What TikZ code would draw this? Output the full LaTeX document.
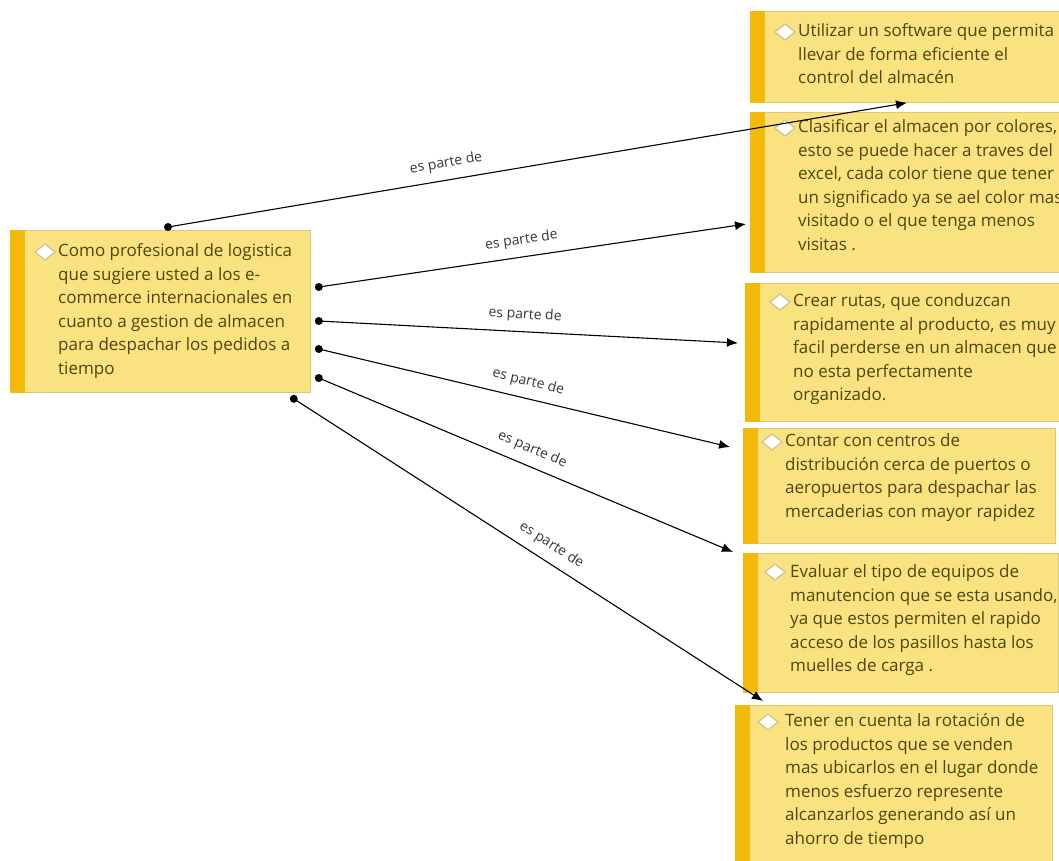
\documentclass[tikz,border=0pt]{standalone}
\usepackage{fontspec}
\setmainfont{Open Sans}
\usetikzlibrary{calc,arrows.meta}
\definecolor{boxfill}{RGB}{251,226,128}
\definecolor{boxline}{RGB}{222,200,120}
\definecolor{stripecol}{RGB}{242,185,10}
\definecolor{txtcol}{RGB}{78,70,15}
\definecolor{diacol}{RGB}{205,195,150}
\definecolor{lblcol}{RGB}{55,55,55}
\begin{document}
\begin{tikzpicture}[x=1pt,y=-1pt,
  card/.style={draw=boxline, line width=0.8pt, fill=boxfill, anchor=north west, inner sep=0pt},
  cardtext/.style={anchor=north west, inner sep=0pt, align=left, text=txtcol, font=\fontsize{17}{23.5}\selectfont},
  conn/.style={line width=1.1pt, -{Latex[length=11pt,width=9pt]}},
  lab/.style={sloped, above=9pt, inner sep=0pt, text=lblcol, font=\fontsize{14}{16}\selectfont},
  gem/.style={draw=diacol, fill=white, line width=1.2pt}]
\useasboundingbox (0,0) rectangle (1059,860);
\clip (0,0) rectangle (1059,860);

% cards
\node[card, minimum width=300pt, minimum height=162pt] (src) at (10,230) {};
\node[card, minimum width=330pt, minimum height=91pt]  (b1) at (750,11) {};
\node[card, minimum width=330pt, minimum height=160pt] (b2) at (750,112) {};
\node[card, minimum width=330pt, minimum height=138pt] (b3) at (745,283) {};
\node[card, minimum width=312pt, minimum height=115pt] (b4) at (743,428) {};
\node[card, minimum width=315pt, minimum height=139pt] (b5) at (743,553) {};
\node[card, minimum width=317pt, minimum height=170pt] (b6) at (735,705) {};

% stripes
\foreach \n in {src,b1,b2,b3,b4,b5,b6}{
  \fill[stripecol] (\n.north west) rectangle ($(\n.south west)+(15,0)$);
}

% diamonds
\foreach \p in {(45,252),(785,32),(785,128),(780,302),(772,442),(775,572),(768,722)}{
  \draw[gem] \p +(-10,0) -- +(0,-8) -- +(10,0) -- +(0,8) -- cycle;
}

% texts
\node[cardtext] (tsrc) at (58,243.6) {Como profesional de logistica\\que sugiere usted a los e-\\commerce internacionales en\\cuanto a gestion de almacen\\para despachar los pedidos a\\tiempo};
\node[cardtext] (t1) at (798,23.6) {Utilizar un software que permita\\llevar de forma eficiente el\\control del almacén};
\node[cardtext] (t2) at (798,119.6) {Clasificar el almacen por colores,\\esto se puede hacer a traves del\\excel, cada color tiene que tener\\un significado ya se ael color mas\\visitado o el que tenga menos\\visitas .};
\node[cardtext] (t3) at (793,293.6) {Crear rutas, que conduzcan\\rapidamente al producto, es muy\\facil perderse en un almacen que\\no esta perfectamente\\organizado.};
\node[cardtext] (t4) at (785,433.6) {Contar con centros de\\distribución cerca de puertos o\\aeropuertos para despachar las\\mercaderias con mayor rapidez};
\node[cardtext] (t5) at (790,564.6) {Evaluar el tipo de equipos de\\manutencion que se esta usando,\\ya que estos permiten el rapido\\acceso de los pasillos hasta los\\muelles de carga .};
\node[cardtext] (t6) at (785,713.6) {Tener en cuenta la rotación de\\los productos que se venden\\mas ubicarlos en el lugar donde\\menos esfuerzo represente\\alcanzarlos generando así un\\ahorro de tiempo};

% connector end points
\coordinate (s1) at ($(src.north west)+(158,-3)$);
\coordinate (s2) at ($(src.north east)+(8,57)$);
\coordinate (s3) at ($(src.north east)+(8,91)$);
\coordinate (s4) at ($(src.north east)+(8,119)$);
\coordinate (s5) at ($(src.north east)+(8,148)$);
\coordinate (s6) at ($(src.south east)+(-17,6)$);
\coordinate (e1) at ($(b1.south west)+(157,0)$);
\coordinate (e2) at ($(b2.north west)+(-4,112)$);
\coordinate (e3) at ($(b3.north west)+(-7,60)$);
\coordinate (e4) at ($(b4.north west)+(-13,19)$);
\coordinate (e5) at ($(b5.north west)+(-10,-1)$);
\coordinate (e6) at ($(b6.north west)+(28,-4)$);

% connectors
\draw[conn] (s1) -- node[lab, pos=0.38] {es parte de} (e1);
\draw[conn] (s2) -- node[lab, pos=0.48] {es parte de} (e2);
\draw[conn] (s3) -- node[lab, pos=0.49] {es parte de} (e3);
\draw[conn] (s4) -- node[lab, pos=0.5] {es parte de} (e4);
\draw[conn] (s5) -- node[lab, pos=0.5] {es parte de} (e5);
\draw[conn] (s6) -- node[lab, pos=0.53] {es parte de} (e6);
\foreach \s in {s1,s2,s3,s4,s5,s6}{\fill (\s) circle (4);}
\end{tikzpicture}
\end{document}
